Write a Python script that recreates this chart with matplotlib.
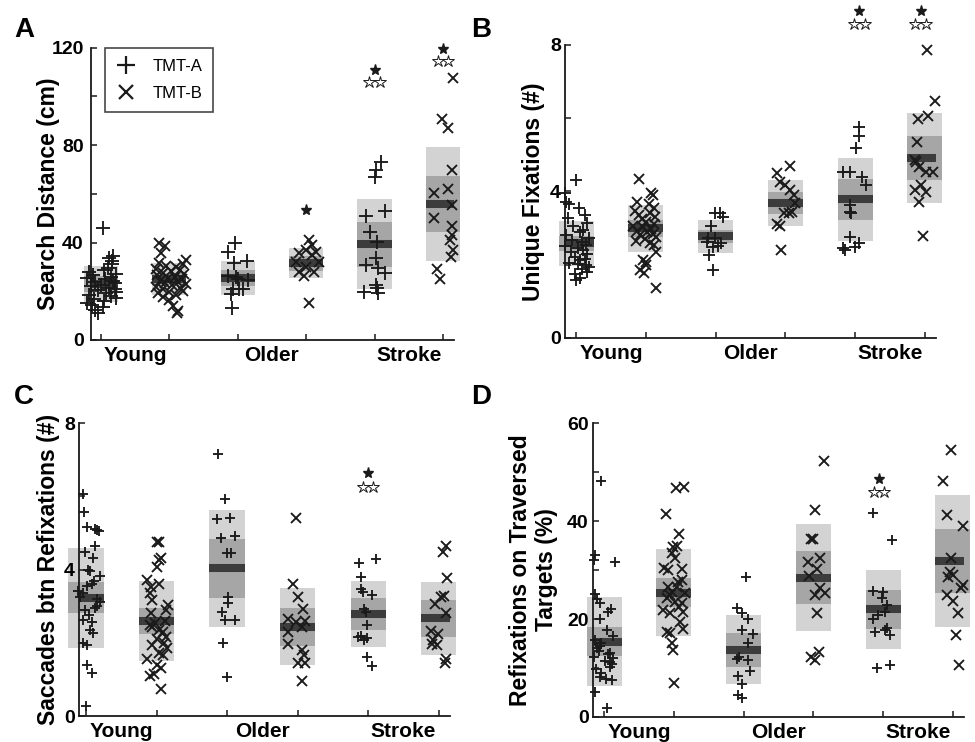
import numpy as np
import matplotlib.pyplot as plt
from matplotlib.lines import Line2D

plt.rcParams['font.family'] = ['Liberation Sans', 'DejaVu Sans']
plt.rcParams['font.weight'] = 'bold'

groups = np.arange(1, 7)
group_names = ['Young', 'Older', 'Stroke']
group_pos = [1.5, 3.5, 5.5]
markers = ['+', 'x', '+', 'x', '+', 'x']

LIGHT = '#d3d3d3'
MID = '#a6a6a6'
DARK = '#3c3c3c'
INK = '#1a1a1a'

# ---------------- A: search distance (cm) ----------------
dist_young_a = [45.9, 34.5, 33.8, 32.5, 31.0, 29.5, 28.6, 28.0, 27.2, 26.7, 26.0, 25.5, 25.0, 24.3, 23.8, 23.2, 22.6,
                22.0, 21.5, 21.0, 20.4, 19.8, 19.2, 18.6, 18.0, 17.3, 16.8, 16.0, 15.2, 14.4, 13.5, 12.5, 11.0]
dist_young_a_dx = [0.03, 0.18, 0.12, 0.16, 0.16, 0.10, 0.04, -0.18, 0.22, -0.12, 0.14, -0.20, 0.06, 0.18, -0.08, 0.20,
                   0.00, -0.15, 0.12, 0.20, -0.05, 0.22, 0.08, -0.17, 0.15, 0.22, -0.10, 0.05, -0.20, -0.13, 0.03, -0.08,
                   -0.05]
dist_young_b = [39.7, 38.6, 35.6, 33.0, 31.8, 31.0, 30.5, 30.0, 29.3, 28.8, 28.2, 27.6, 27.0, 26.5, 26.0, 25.4, 24.9,
                24.4, 23.9, 23.4, 22.9, 22.4, 21.9, 21.4, 20.9, 20.3, 19.8, 19.2, 18.4, 17.8, 16.5, 14.0, 12.0, 11.0]
dist_young_b_dx = [-0.15, -0.06, -0.12, 0.24, -0.15, 0.20, -0.05, 0.10, -0.20, 0.15, 0.02, -0.10, 0.22, -0.18, 0.08,
                   -0.02, 0.18, -0.14, 0.12, -0.06, 0.24, 0.04, -0.20, 0.16, -0.10, 0.20, 0.00, -0.16, 0.10, -0.10,
                   0.00, 0.05, 0.12, 0.11]
dist_older_a = [40.0, 36.3, 31.5, 32.5, 26.3, 26.0, 24.7, 20.8, 20.8, 20.8, 18.9, 13.0, 25.2]
dist_older_a_dx = [-0.04, -0.15, -0.06, 0.13, -0.14, -0.02, 0.15, -0.07, 0.02, 0.07, -0.10, -0.09, 0.0]
dist_older_b = [41.1, 39.0, 37.0, 35.6, 34.9, 32.2, 32.2, 30.0, 28.1, 28.1, 26.3, 15.1, 36.0]
dist_older_b_dx = [0.04, 0.09, 0.0, -0.10, 0.09, -0.15, 0.19, 0.0, -0.10, 0.12, -0.03, 0.04, 0.15]
dist_stroke_a = [73.0, 69.9, 67.0, 53.1, 51.0, 44.3, 40.2, 33.6, 30.8, 29.5, 27.7, 22.6, 21.5, 19.9, 19.2]
dist_stroke_a_dx = [0.10, 0.02, 0.0, 0.15, -0.12, -0.07, 0.04, 0.02, -0.12, 0.05, 0.15, 0.02, 0.04, -0.15, 0.05]
dist_stroke_b = [107.5, 90.7, 87.0, 69.9, 61.9, 60.3, 55.5, 50.0, 46.6, 43.2, 41.1, 37.0, 34.2, 29.0, 24.9]
dist_stroke_b_dx = [0.14, -0.02, 0.08, 0.13, 0.08, -0.13, 0.13, -0.13, 0.13, 0.13, 0.10, 0.15, 0.11, -0.09, -0.05]
dist_mean = [23.0, 25.0, 25.4, 31.5, 39.3, 55.9]
dist_inner = [3.2, 2.6, 3.3, 3.0, 9.2, 11.5]
dist_outer = [7.2, 6.5, 7.0, 6.2, 18.5, 23.5]
dist_star_x = [4, 5, 6]
dist_star_full = [53.2, 111.0, 119.6]
dist_star_open = [None, 105.8, 114.7]

# ---------------- B: unique fixations (#) ----------------
fix_young_a = [4.30, 3.95, 3.72, 3.65, 3.55, 3.35, 3.27, 3.15, 3.05, 2.95, 2.88, 2.80, 2.74, 2.68, 2.62, 2.55, 2.50,
               2.45, 2.40, 2.34, 2.28, 2.22, 2.17, 2.12, 2.06, 2.02, 1.98, 1.93, 1.88, 1.81, 1.75, 1.65, 1.58]
fix_young_a_dx = [0.0, -0.16, -0.14, -0.10, 0.04, 0.12, -0.12, 0.16, -0.04, 0.10, 0.06, -0.14, 0.18, -0.06, 0.08,
                  0.14, -0.16, 0.02, 0.10, -0.08, 0.16, -0.02, 0.12, 0.06, -0.10, 0.02, 0.14, 0.18, 0.08, 0.15, -0.02,
                  0.06, 0.0]
fix_young_b = [4.34, 3.95, 3.90, 3.72, 3.65, 3.55, 3.48, 3.42, 3.36, 3.30, 3.25, 3.18, 3.12, 3.06, 3.02, 2.98, 2.93,
               2.88, 2.84, 2.80, 2.75, 2.70, 2.65, 2.60, 2.55, 2.36, 2.13, 2.08, 1.99, 1.85, 1.77, 1.36]
fix_young_b_dx = [-0.10, 0.08, 0.10, -0.13, 0.05, 0.11, -0.16, 0.06, -0.10, 0.13, -0.05, 0.0, 0.12, -0.18, -0.04,
                  0.08, -0.13, 0.02, 0.10, -0.08, 0.15, -0.02, -0.14, 0.06, 0.12, 0.14, -0.04, 0.0, 0.0, -0.08, -0.03,
                  0.14]
fix_older_a = [3.40, 3.42, 3.31, 3.06, 2.72, 2.72, 2.58, 2.62, 2.49, 2.52, 2.27, 1.86]
fix_older_a_dx = [-0.01, 0.06, 0.11, -0.06, -0.11, -0.01, 0.08, -0.13, -0.04, 0.03, -0.09, -0.04]
fix_older_b = [4.70, 4.51, 4.27, 4.18, 4.04, 3.90, 3.68, 3.42, 3.40, 3.45, 3.06, 2.40, 3.10]
fix_older_b_dx = [0.06, -0.12, -0.07, 0.0, 0.07, 0.12, 0.14, -0.02, 0.05, 0.10, -0.07, -0.06, -0.12]
fix_stroke_a = [5.77, 5.52, 5.18, 4.54, 4.54, 4.40, 4.18, 3.63, 3.45, 3.40, 2.77, 2.58, 2.49, 2.40, 2.45]
fix_stroke_a_dx = [0.05, 0.06, 0.01, -0.17, -0.07, 0.10, 0.16, -0.07, -0.07, -0.06, -0.07, 0.05, 0.0, -0.14, -0.17]
fix_stroke_b = [7.86, 6.48, 6.06, 5.97, 5.36, 4.86, 4.80, 4.68, 4.54, 4.54, 4.18, 4.04, 3.98, 3.72, 2.78]
fix_stroke_b_dx = [0.03, 0.14, 0.05, -0.10, -0.11, -0.14, -0.12, -0.08, 0.01, 0.12, -0.05, -0.14, 0.02, -0.08, -0.03]
fix_mean = [2.58, 2.99, 2.78, 3.68, 3.79, 4.91]
fix_inner = [0.20, 0.22, 0.18, 0.30, 0.56, 0.60]
fix_outer = [0.62, 0.64, 0.45, 0.62, 1.13, 1.22]
fix_star_x = [5.06, 5.94]
fix_star_full = [8.93, 8.93]
fix_star_open = [8.57, 8.57]

# ---------------- C: saccades between refixations (#) ----------------
sac_young_a = [6.07, 5.58, 5.17, 5.08, 5.10, 5.05, 4.63, 4.49, 4.31, 3.99, 3.83, 3.95, 3.54, 3.60, 3.35, 3.20, 3.40,
               3.10, 2.90, 2.95, 2.58, 2.62, 2.35, 2.26, 1.99, 1.95, 1.39, 1.18, 0.27, 3.70, 3.25, 3.00, 2.75]
sac_young_a_dx = [-0.04, -0.03, 0.01, 0.15, 0.13, 0.18, 0.13, -0.01, 0.10, 0.03, 0.20, 0.06, 0.01, 0.08, -0.04, 0.15,
                  -0.11, 0.20, -0.01, 0.13, 0.08, -0.04, 0.06, 0.10, -0.04, 0.01, 0.01, 0.08, 0.0, 0.12, -0.08, 0.16,
                  0.04]
sac_young_b = [4.76, 4.76, 4.31, 4.25, 4.08, 3.71, 3.53, 3.60, 3.17, 3.03, 2.82, 2.48, 2.44, 2.35, 2.30, 2.17, 1.99,
               1.95, 1.67, 1.72, 1.55, 1.39, 1.30, 1.08, 1.15, 0.73, 3.35, 2.90, 2.60, 2.55, 2.10, 1.85]
sac_young_b_dx = [0.04, 0.01, 0.06, 0.04, 0.0, -0.13, -0.08, 0.04, -0.06, 0.16, -0.08, -0.10, -0.06, 0.04, 0.09,
                  0.13, 0.11, -0.06, 0.09, 0.04, -0.13, 0.01, 0.06, -0.10, -0.03, 0.06, -0.10, 0.14, 0.12, -0.02,
                  0.0, 0.15]
sac_older_a = [7.16, 5.92, 5.37, 5.40, 4.85, 4.91, 4.46, 4.46, 3.26, 3.09, 2.85, 2.62, 2.62, 2.00, 1.07]
sac_older_a_dx = [-0.13, -0.03, -0.14, 0.04, -0.08, 0.11, 0.0, 0.06, 0.01, 0.01, -0.07, -0.03, 0.11, -0.06, 0.0]
sac_older_b = [5.40, 3.61, 3.25, 2.91, 2.66, 2.60, 2.58, 2.44, 2.30, 1.98, 1.80, 1.66, 1.44, 1.44, 0.96]
sac_older_b_dx = [-0.02, -0.06, 0.01, 0.08, -0.13, 0.11, -0.03, 0.06, -0.14, -0.13, 0.06, 0.09, 0.0, 0.10, 0.06]
sac_stroke_a = [4.19, 4.28, 3.80, 3.46, 3.39, 3.30, 2.91, 2.85, 2.48, 2.15, 2.19, 2.08, 2.12, 1.62, 1.36]
sac_stroke_a_dx = [-0.13, 0.11, -0.10, -0.10, -0.08, 0.06, -0.06, -0.03, -0.01, -0.15, -0.10, -0.06, -0.01, -0.01,
                   0.06]
sac_stroke_b = [4.64, 4.49, 3.76, 3.28, 3.06, 2.81, 2.33, 2.24, 2.08, 1.94, 1.98, 1.57, 1.44, 3.25]
sac_stroke_b_dx = [0.11, 0.06, 0.12, 0.08, -0.05, 0.11, -0.11, -0.01, -0.08, -0.03, -0.10, 0.11, 0.09, 0.04]
sac_mean = [3.23, 2.60, 4.03, 2.44, 2.78, 2.67]
sac_inner = [0.43, 0.36, 0.80, 0.52, 0.43, 0.50]
sac_outer = [1.37, 1.10, 1.60, 1.06, 0.90, 1.00]
sac_star_x = [5]
sac_star_full = [6.63]
sac_star_open = [6.25]

# ---------------- D: refixations on traversed targets (%) ----------------
refix_young_a = [48.2, 33.0, 32.0, 31.7, 25.2, 23.3, 21.5, 20.1, 17.7, 15.7, 14.0, 14.5, 12.3, 13.0, 12.0, 10.9, 11.5,
                 9.7, 10.2, 8.2, 7.5, 5.2, 1.9, 24.0, 22.0, 16.5, 15.0, 13.5, 12.8, 11.2, 9.0, 7.8]
refix_young_a_dx = [-0.05, -0.13, -0.15, 0.16, -0.13, -0.06, 0.06, -0.06, 0.04, -0.13, -0.10, -0.06, -0.15, 0.09,
                    0.13, 0.11, 0.01, -0.11, 0.09, -0.06, 0.11, -0.13, 0.04, -0.10, 0.10, 0.12, -0.04, -0.08, 0.06,
                    0.08, -0.04, 0.02]
refix_young_b = [46.7, 46.9, 41.4, 37.3, 34.6, 35.0, 33.5, 32.4, 30.3, 30.5, 30.0, 28.0, 26.6, 26.6, 25.3, 25.5, 24.2,
                 23.5, 23.2, 21.8, 21.3, 21.5, 19.4, 18.0, 17.4, 17.2, 15.0, 13.7, 6.9, 27.5, 24.8, 22.5]
refix_young_b_dx = [0.03, 0.14, -0.11, 0.07, -0.01, 0.05, -0.03, 0.01, 0.11, -0.14, -0.08, 0.11, -0.08, 0.04, 0.16,
                    -0.03, -0.10, 0.01, 0.11, -0.15, -0.06, 0.13, 0.09, 0.13, -0.10, -0.05, -0.03, -0.01, 0.0, 0.06,
                    -0.05, 0.08]
refix_older_a = [28.6, 22.2, 21.2, 20.0, 17.7, 17.0, 15.2, 12.3, 11.8, 11.7, 9.3, 8.3, 6.7, 4.4, 3.9]
refix_older_a_dx = [0.03, -0.10, -0.02, 0.06, -0.03, 0.13, 0.06, -0.07, -0.10, 0.06, 0.09, -0.08, -0.02, -0.08, -0.02]
refix_older_b = [52.3, 42.2, 36.4, 36.4, 31.7, 32.4, 30.3, 28.8, 26.3, 24.9, 25.3, 21.3, 12.3, 13.3, 11.6]
refix_older_b_dx = [0.15, 0.03, -0.03, -0.01, -0.08, 0.10, 0.05, -0.06, 0.10, 0.03, 0.16, 0.05, -0.04, 0.08, 0.02]
refix_stroke_a = [41.6, 36.1, 25.8, 25.6, 24.2, 22.9, 21.5, 20.1, 20.8, 17.4, 18.1, 16.7, 17.8, 10.1, 10.6]
refix_stroke_a_dx = [-0.14, 0.13, -0.14, 0.0, -0.02, 0.05, 0.03, -0.14, -0.07, -0.11, 0.05, 0.10, 0.03, -0.09, 0.10]
refix_stroke_b = [54.4, 48.2, 41.2, 39.0, 32.4, 29.5, 29.0, 28.5, 27.0, 26.3, 24.9, 23.7, 21.3, 16.7, 10.6]
refix_stroke_b_dx = [-0.03, -0.14, -0.08, 0.15, -0.03, -0.04, 0.0, -0.07, 0.15, 0.12, -0.08, 0.0, 0.07, 0.05, 0.09]
refix_mean = [15.4, 25.4, 13.7, 28.4, 22.0, 31.9]
refix_inner = [3.0, 2.9, 3.45, 5.4, 3.95, 6.55]
refix_outer = [9.1, 8.85, 7.05, 10.9, 8.1, 13.45]
refix_star_x = [4.94]
refix_star_full = [48.5]
refix_star_open = [46.0]


def draw_panel(ax, vals, dxs, mean, inner, outer, star_x, star_full, star_open,
               yticks, ylabels, ylim, xlim, ms_plus, ms_x):
    mean = np.array(mean)
    inner = np.array(inner)
    outer = np.array(outer)
    ax.bar(groups, 2 * outer, bottom=mean - outer, width=0.5, color=LIGHT, zorder=1, clip_on=False)
    ax.bar(groups, 2 * inner, bottom=mean - inner, width=0.5, color=MID, zorder=1.5, clip_on=False)
    ax.hlines(mean, groups - 0.25, groups + 0.25, colors=DARK, lw=5.8, zorder=2, capstyle='butt')
    for g, v, d, m in zip(groups, vals, dxs, markers):
        ms = ms_plus if m == '+' else ms_x
        ax.plot(g + np.array(d), v, ls='none', marker=m, ms=ms, mew=1.35, color=INK, zorder=3, clip_on=False)
    for x, yf, yo in zip(star_x, star_full, star_open):
        ax.plot([x], [yf], ls='none', marker='*', ms=8, color=INK, zorder=4, clip_on=False)
        if yo is not None:
            ax.plot([x - 0.075, x + 0.075], [yo, yo], ls='none', marker='*', ms=9, mfc='white', mec=INK,
                    mew=0.7, zorder=4, clip_on=False)
    ax.set_xlim(xlim)
    ax.set_ylim(ylim)
    ax.set_xticks(groups)
    ax.set_xticklabels([])
    ax.set_xticks(group_pos, minor=True)
    ax.set_xticklabels(group_names, minor=True, fontsize=15, fontweight='bold')
    ax.tick_params(axis='x', which='minor', length=0, pad=4)
    ax.tick_params(axis='x', which='major', direction='in', length=4, width=1.1, color=INK)
    ax.set_yticks(yticks)
    ax.set_yticklabels(ylabels, fontsize=14, fontweight='bold')
    ax.tick_params(axis='y', direction='in', length=4, width=1.1, color=INK, pad=3)
    for s in ['top', 'right']:
        ax.spines[s].set_visible(False)
    for s in ['left', 'bottom']:
        ax.spines[s].set_linewidth(1.3)
        ax.spines[s].set_color(INK)


fig = plt.figure(figsize=(9.75, 7.42), dpi=100)
axA = fig.add_axes([0.0930, 0.5418, 0.3726, 0.3939])
axB = fig.add_axes([0.5795, 0.5445, 0.3805, 0.3949])
axC = fig.add_axes([0.0810, 0.0350, 0.3805, 0.3949])
axD = fig.add_axes([0.6082, 0.0337, 0.3805, 0.3962])

draw_panel(axA,
           [dist_young_a, dist_young_b, dist_older_a, dist_older_b, dist_stroke_a, dist_stroke_b],
           [dist_young_a_dx, dist_young_b_dx, dist_older_a_dx, dist_older_b_dx, dist_stroke_a_dx, dist_stroke_b_dx],
           dist_mean, dist_inner, dist_outer, dist_star_x, dist_star_full, dist_star_open,
           [0, 20, 40, 60, 80, 100, 120], ['0', '', '40', '', '80', '', '120'], (0, 120), (0.85, 6.16), 9.5, 7.5)
axA.tick_params(axis='y', pad=5)
axA.set_ylabel('Search Distance (cm)', fontsize=16.5, fontweight='bold')
axA.yaxis.set_label_coords(-0.085, 0.5)

draw_panel(axB,
           [fix_young_a, fix_young_b, fix_older_a, fix_older_b, fix_stroke_a, fix_stroke_b],
           [fix_young_a_dx, fix_young_b_dx, fix_older_a_dx, fix_older_b_dx, fix_stroke_a_dx, fix_stroke_b_dx],
           fix_mean, fix_inner, fix_outer, fix_star_x, fix_star_full, fix_star_open,
           [0, 2, 4, 6, 8], ['0', '', '4', '', '8'], (0, 8), (0.84, 6.16), 8.5, 6.5)
axB.set_ylabel('Unique Fixations (#)', fontsize=16.5, fontweight='bold')
axB.yaxis.set_label_coords(-0.054, 0.5)

draw_panel(axC,
           [sac_young_a, sac_young_b, sac_older_a, sac_older_b, sac_stroke_a, sac_stroke_b],
           [sac_young_a_dx, sac_young_b_dx, sac_older_a_dx, sac_older_b_dx, sac_stroke_a_dx, sac_stroke_b_dx],
           sac_mean, sac_inner, sac_outer, sac_star_x, sac_star_full, sac_star_open,
           [0, 2, 4, 6, 8], ['0', '', '4', '', '8'], (0, 8), (0.9, 6.16), 7.5, 6.5)
axC.set_ylabel('Saccades btn Refixations (#)', fontsize=16.5, fontweight='bold')
axC.yaxis.set_label_coords(-0.051, 0.5)

draw_panel(axD,
           [refix_young_a, refix_young_b, refix_older_a, refix_older_b, refix_stroke_a, refix_stroke_b],
           [refix_young_a_dx, refix_young_b_dx, refix_older_a_dx, refix_older_b_dx, refix_stroke_a_dx,
            refix_stroke_b_dx],
           refix_mean, refix_inner, refix_outer, refix_star_x, refix_star_full, refix_star_open,
           [0, 10, 20, 30, 40, 50, 60], ['0', '', '20', '', '40', '', '60'], (0, 60), (0.84, 6.16), 7.5, 6.5)
axD.set_ylabel('Refixations on Traversed\nTargets (%)', fontsize=16.5, fontweight='bold', linespacing=1.15)
axD.yaxis.set_label_coords(-0.094, 0.5)

# legend in panel A
handles = [Line2D([], [], ls='none', marker='+', ms=13, mew=1.6, color=INK),
           Line2D([], [], ls='none', marker='x', ms=10, mew=1.6, color=INK)]
leg = axA.legend(handles, ['TMT-A', 'TMT-B'], loc='upper left', bbox_to_anchor=(0.039, 1.0), borderaxespad=0,
                 frameon=True, fancybox=False, edgecolor=INK, prop={'size': 12, 'weight': 'normal'},
                 handlelength=1.2, handletextpad=1.0, labelspacing=0.75, borderpad=0.65)
leg.get_frame().set_linewidth(1.2)

for lbl, x, y in [('A', 14, 17), ('B', 471, 17), ('C', 14, 384), ('D', 471, 384)]:
    fig.text(x / 975, 1 - y / 742, lbl, fontsize=20, fontweight='bold', ha='left', va='top')

fig.savefig('out.png', dpi=100)
